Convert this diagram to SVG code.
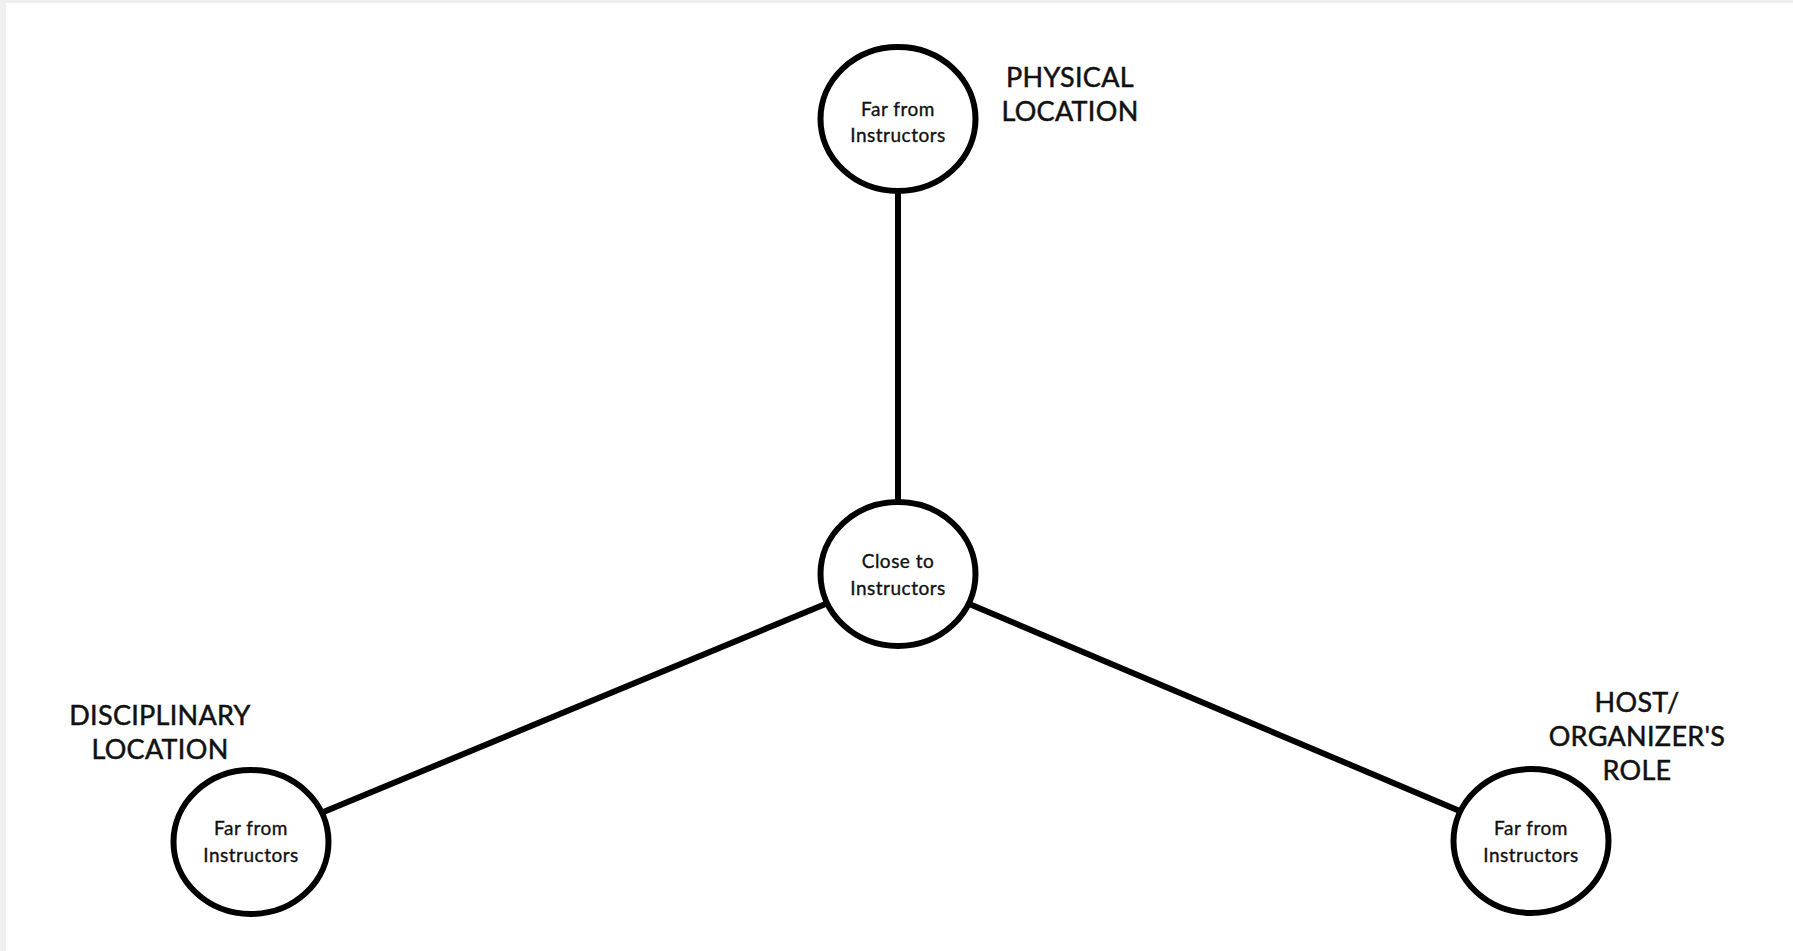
<svg xmlns="http://www.w3.org/2000/svg" width="1793" height="951" viewBox="0 0 1793 951">
  <style>
    .node { fill: #ffffff; stroke: #000000; stroke-width: 6; }
    .edge { stroke: #000000; stroke-width: 6; fill: none; }
    .inner { font-family: Lato, "Liberation Sans", sans-serif; font-size: 19px; fill: #111111; stroke: #111111; stroke-width: 0.35px; text-anchor: middle; letter-spacing: 0.5px; }
    .label { font-family: Lato, "Liberation Sans", sans-serif; font-size: 27px; fill: #111111; stroke: #111111; stroke-width: 0.5px; text-anchor: middle; letter-spacing: 0.3px; }
  </style>

  <!-- page background -->
  <rect x="0" y="0" width="1793" height="951" fill="#efefef"/>
  <rect x="6" y="3" width="1787" height="948" fill="#ffffff"/>

  <!-- connectors: spokes from the hub to each outer node -->
  <g id="connectors">
    <line class="edge" x1="898" y1="119" x2="898" y2="574"/>
    <line class="edge" x1="898" y1="574" x2="251" y2="842"/>
    <line class="edge" x1="898" y1="574" x2="1531" y2="841"/>
  </g>

  <!-- hub -->
  <g id="node-close">
    <ellipse class="node" cx="898" cy="574" rx="77.5" ry="72"/>
    <text class="inner" x="898" y="568">Close to</text>
    <text class="inner" x="898" y="595">Instructors</text>
  </g>

  <!-- physical location axis -->
  <g id="node-physical">
    <ellipse class="node" cx="898" cy="119" rx="77.5" ry="72"/>
    <text class="inner" x="898" y="116">Far from</text>
    <text class="inner" x="898" y="142">Instructors</text>
  </g>
  <g id="label-physical">
    <text class="label" x="1070" y="87">PHYSICAL</text>
    <text class="label" x="1070" y="121">LOCATION</text>
  </g>

  <!-- disciplinary location axis -->
  <g id="node-disciplinary">
    <ellipse class="node" cx="251" cy="842" rx="77.5" ry="72"/>
    <text class="inner" x="251" y="835">Far from</text>
    <text class="inner" x="251" y="862">Instructors</text>
  </g>
  <g id="label-disciplinary">
    <text class="label" x="160" y="725">DISCIPLINARY</text>
    <text class="label" x="160" y="759">LOCATION</text>
  </g>

  <!-- host / organizer role axis -->
  <g id="node-host">
    <ellipse class="node" cx="1531" cy="841" rx="77.5" ry="72"/>
    <text class="inner" x="1531" y="835">Far from</text>
    <text class="inner" x="1531" y="862">Instructors</text>
  </g>
  <g id="label-host">
    <text class="label" x="1637" y="712">HOST/</text>
    <text class="label" x="1637" y="746">ORGANIZER'S</text>
    <text class="label" x="1637" y="780">ROLE</text>
  </g>
</svg>
